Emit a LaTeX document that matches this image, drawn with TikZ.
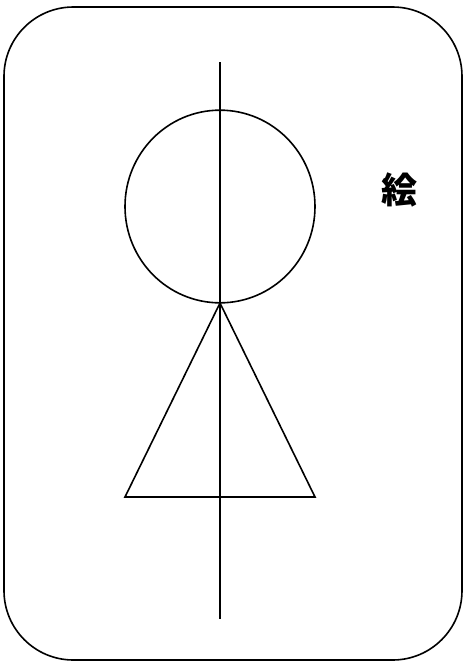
\documentclass[tikz,border=0pt]{standalone}
\usepackage{fontspec}
\newfontfamily\cjk{Noto Sans CJK JP}
\usetikzlibrary{positioning, shapes.geometric}
\tikzset{
  outline/.style={draw=black, line width=1.2pt},
}
\begin{document}
\begin{tikzpicture}[x=0.75pt, y=-0.75pt]
  \useasboundingbox (0,0) rectangle (468,662);
  % Frame
  \draw[outline, rounded corners=52pt] (4,7) rectangle (462,660);
  % Head
  \node[outline, ellipse, minimum width=142.5pt, minimum height=144.5pt, inner sep=0pt] (head) at (220,206.5) {};
  % Body
  \coordinate (apex) at (220,303);
  \coordinate (bl) at (125,497);
  \coordinate (br) at (315,497);
  \draw[outline, line join=miter] (apex) -- (bl) -- (br) -- cycle;
  % Axis
  \coordinate (top) at (220,62);
  \coordinate (bottom) at (220,619);
  \draw[outline] (top) -- (bottom);
  % Label
  \node[font=\cjk\bfseries\fontsize{27}{27}\selectfont, inner sep=0pt] (label) at (399,190) {絵};
\end{tikzpicture}
\end{document}
